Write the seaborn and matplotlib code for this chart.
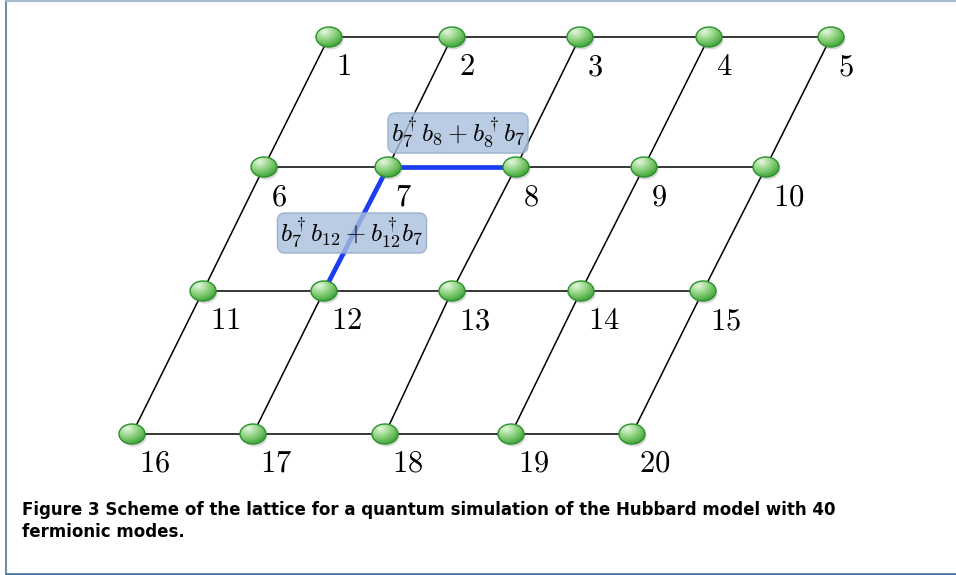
import numpy as np
import pandas as pd
import seaborn as sns
import matplotlib.pyplot as plt
from matplotlib.patches import Ellipse
from matplotlib.lines import Line2D

# lattice sites (pixel coordinates, y grows downward)
site_ids = list(range(1, 21))
site_x = [329, 452, 580, 709, 831,
          264, 388, 516, 644, 766,
          203, 324, 452, 581, 703,
          132, 253, 385, 511, 632]
site_y = [37, 37, 37, 37, 37,
          167, 167, 167, 167, 167,
          291, 291, 291, 291, 291,
          434, 434, 434, 434, 434]
n_rows, n_cols = 4, 5

# highlighted hopping terms
hop_pairs = [(7, 8), (7, 12)]
hop_labels = [r"$b_7^\dagger b_8 + b_8^\dagger b_7$",
              r"$b_7^\dagger b_{12} + b_{12}^\dagger b_7$"]
hop_label_xy = [(458, 133), (352, 233)]

caption_1 = "Figure 3 Scheme of the lattice for a quantum simulation of the Hubbard model with 40"
caption_2 = "fermionic modes."

sns.set_theme(style="white")
plt.rcParams["mathtext.fontset"] = "cm"
plt.rcParams["font.family"] = ["DejaVu Sans"]

pos = {i: (x, y) for i, x, y in zip(site_ids, site_x, site_y)}

# build the edge table: horizontal rows and slanted columns
rows = []
eid = 0
for r in range(n_rows):
    for c in range(n_cols):
        rows.append({"x": pos[r * n_cols + c + 1][0], "y": pos[r * n_cols + c + 1][1], "edge": eid})
    eid += 1
for c in range(n_cols):
    for r in range(n_rows):
        rows.append({"x": pos[r * n_cols + c + 1][0], "y": pos[r * n_cols + c + 1][1], "edge": eid})
    eid += 1
edges = pd.DataFrame(rows)

hops = pd.DataFrame([{"x": pos[s][0], "y": pos[s][1], "edge": k}
                     for k, pair in enumerate(hop_pairs) for s in pair])

fig = plt.figure(figsize=(9.56, 5.75), dpi=100)
ax = fig.add_axes([0, 0, 1, 1])

sns.lineplot(data=edges, x="x", y="y", units="edge", estimator=None, sort=False,
             color="black", linewidth=1.1, ax=ax, zorder=1)
sns.lineplot(data=hops, x="x", y="y", units="edge", estimator=None, sort=False,
             color="#1c3cf2", linewidth=3.4, ax=ax, zorder=2)

# node gradient image
g = 64
u, v = np.meshgrid(np.linspace(-1, 1, g), np.linspace(-1, 1, g))
d = np.clip(np.hypot(u + 0.35, v + 0.55) / 1.7, 0, 1)
light = np.array([0.90, 0.97, 0.88])
mid = np.array([0.55, 0.82, 0.49])
dark = np.array([0.22, 0.62, 0.20])
t1 = np.clip(d * 2, 0, 1)[..., None]
t2 = np.clip(d * 2 - 1, 0, 1)[..., None]
img = np.where(d[..., None] < 0.5, light + (mid - light) * t1, mid + (dark - mid) * t2)

w, h = 26, 20
for s in site_ids:
    x, y = pos[s]
    shadow = Ellipse((x + 1.5, y + 2.5), w, h, facecolor="gray", alpha=0.3,
                     edgecolor="none", zorder=3)
    ax.add_patch(shadow)
    e = Ellipse((x, y), w, h, facecolor="none", edgecolor="#2a922a", lw=1.0, zorder=5)
    ax.add_patch(e)
    im = ax.imshow(img, extent=(x - w / 2, x + w / 2, y + h / 2, y - h / 2),
                   origin="upper", zorder=4, aspect="auto", interpolation="bilinear")
    im.set_clip_path(e)
    ax.text(x + 7, y + 15, f"${s}$", fontsize=22, ha="left", va="top", color="black", zorder=6)

for lab, (tx, ty) in zip(hop_labels, hop_label_xy):
    ax.text(tx, ty, lab, fontsize=18.5, ha="center", va="center", color="black", zorder=7,
            bbox=dict(boxstyle="round,pad=0.12,rounding_size=0.3",
                      facecolor="#a9c0dc", edgecolor="#90a9c8", alpha=0.8, lw=1))

ax.text(22, 515, caption_1, fontsize=12.0, fontweight="bold", color="black",
        ha="left", va="baseline")
ax.text(22, 537, caption_2, fontsize=12.0, fontweight="bold", color="black",
        ha="left", va="baseline")

# frame
ax.add_line(Line2D([6.5, 6.5], [0, 574], color="#6f8db0", lw=1.5))
ax.add_line(Line2D([6, 956], [0.5, 0.5], color="#a6b9cf", lw=1.5))
ax.add_line(Line2D([6, 956], [573.5, 573.5], color="#3b6ea3", lw=1.8))

ax.set_xlim(0, 956)
ax.set_ylim(575, 0)
ax.axis("off")

fig.savefig("out.png", dpi=100)
